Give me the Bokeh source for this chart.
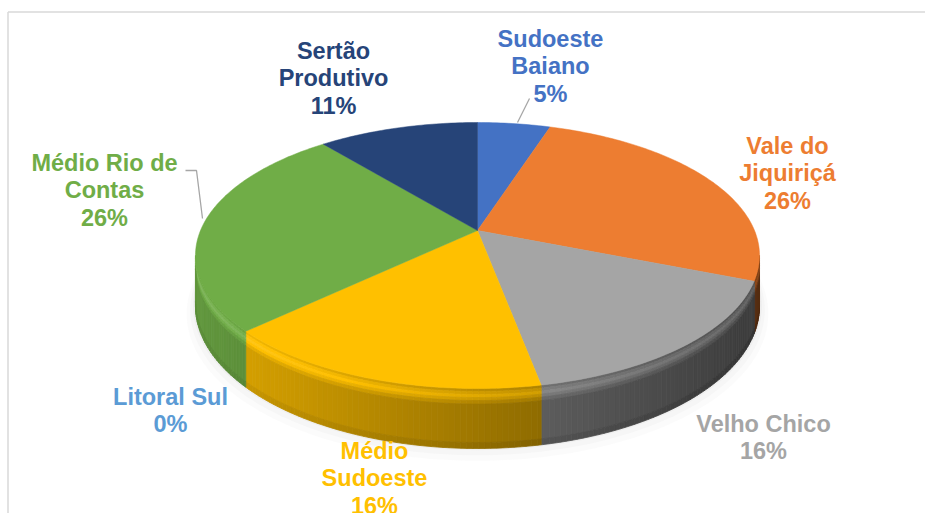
import numpy as np
from bokeh.plotting import figure
from bokeh.models import Range1d
from bokeh.embed import file_html
from bokeh.resources import INLINE
from bokeh.core.properties import value

# ---------------- data ----------------
regions = ["Sudoeste Baiano", "Vale do Jiquiriçá", "Velho Chico", "Médio Sudoeste",
           "Litoral Sul", "Médio Rio de Contas", "Sertão Produtivo"]
shares = [5, 26, 16, 16, 0, 26, 11]
label_lines = [["Sudoeste", "Baiano"], ["Vale do", "Jiquiriçá"], ["Velho Chico"],
               ["Médio", "Sudoeste"], ["Litoral Sul"], ["Médio Rio de", "Contas"],
               ["Sertão", "Produtivo"]]
colors = ["#4472C4", "#ED7D31", "#A5A5A5", "#FFC000", "#5B9BD5", "#70AD47", "#264478"]

# ---------------- layout (pixels) ----------------
label_pos = [(550, 38), (787, 145), (763, 423), (374, 450), (170, 396), (104, 162), (333, 50)]
LINE_H = 27.5
CX, CY, A, B, K, D = 477.0, 230.0, 277.0, 128.3, 0.188, 48.7
W, H = 925, 513

p = figure(width=W, height=H, x_range=Range1d(0, W), y_range=Range1d(H, 0),
           output_backend="svg", toolbar_location=None, min_border=0,
           outline_line_color=None, background_fill_color="white")
p.axis.visible = False
p.grid.visible = False


def proj(theta_deg, r=1.0):
    t = np.radians(theta_deg)
    u, v = r * np.sin(t), r * np.cos(t)
    den = 1 + K * v
    return CX + A * u / den, CY - B * v / den, D / den


def hex2rgb(h):
    h = h.lstrip("#")
    return [int(h[i:i + 2], 16) for i in (0, 2, 4)]


def shade(h, f):
    r = hex2rgb(h)
    if f <= 1:
        c = [int(max(0, min(255, x * f))) for x in r]
    else:
        c = [int(min(255, x + (255 - x) * (f - 1))) for x in r]
    return "#%02x%02x%02x" % tuple(c)


total = float(sum(shares))
bounds = np.concatenate([[0], np.cumsum(shares) / total * 360.0])

# chart border
p.line([7.5, 7.5], [11.5, H], line_color="#D9D9D9", line_width=1.5)
p.line([7.5, W], [11.5, 11.5], line_color="#D9D9D9", line_width=1.5)

# soft shadow under the pie
th = np.linspace(0, 360, 241)
for rr, off, al in [(1.03, 10, 0.035), (1.018, 7, 0.045), (1.008, 4, 0.06)]:
    x, y, d = proj(th, rr)
    p.patch(list(x), list(y + d + off - 4), fill_color="#808080", fill_alpha=al, line_color=None)

# visible side range (silhouette)
fine = np.linspace(0, 360, 3601)
xf, _, _ = proj(fine)
th_r = fine[np.argmax(xf)]
th_l = fine[np.argmin(xf)]

side_xs, side_ys, side_cols = [], [], []
steps = np.append(np.arange(th_r, th_l, 1.0), th_l)
allt = np.unique(np.concatenate([steps, [b for b in bounds if th_r < b < th_l]]))
bands = [0.0, 0.05, 0.1, 0.15, 0.2, 0.26, 0.9, 1.0]
band_boost = [0.12, 0.2, 0.26, 0.18, 0.08, 0.0, -0.05]
for t0, t1 in zip(allt[:-1], allt[1:]):
    tm = 0.5 * (t0 + t1)
    idx = int(np.searchsorted(bounds, tm, side="right") - 1)
    idx = min(max(idx, 0), len(shares) - 1)
    x0, y0, d0 = proj(t0)
    x1, y1, d1 = proj(t1)
    xm = 0.5 * (x0 + x1)
    tt = (xm - 193) / 570.0
    f = 0.88 - 0.52 * tt
    for j in range(len(bands) - 1):
        s0, s1 = bands[j], bands[j + 1]
        side_xs.append([x0, x1, x1, x0])
        side_ys.append([y0 + s0 * d0, y1 + s0 * d1, y1 + s1 * d1, y0 + s1 * d0])
        side_cols.append(shade(colors[idx], f + band_boost[j]))
p.patches(side_xs, side_ys, fill_color=side_cols, line_color=side_cols, line_width=0.8)

# top surface wedges
for i, s in enumerate(shares):
    if s <= 0:
        continue
    tw = np.linspace(bounds[i], bounds[i + 1], max(4, int(s * 4)))
    x, y, _ = proj(tw)
    p.patch([CX] + list(x), [CY] + list(y), fill_color=colors[i],
            line_color=colors[i], line_width=0.5)

# leader lines
p.line([529, 517], [98, 122], line_color="#A6A6A6", line_width=1.3)
p.line([185, 196, 202], [170, 170, 218], line_color="#A6A6A6", line_width=1.3)

# labels
for i, lines in enumerate(label_lines):
    lx, ly = label_pos[i]
    txt = lines + ["%d%%" % shares[i]]
    ys = [ly + k * LINE_H for k in range(len(txt))]
    p.text(x=[lx] * len(txt), y=ys, text=txt, text_color=colors[i],
           text_font=value("Liberation Sans"), text_font_style="bold",
           text_font_size="23.5px", text_align="center", text_baseline="middle")

open("out.html", "w").write(file_html(p, INLINE))
